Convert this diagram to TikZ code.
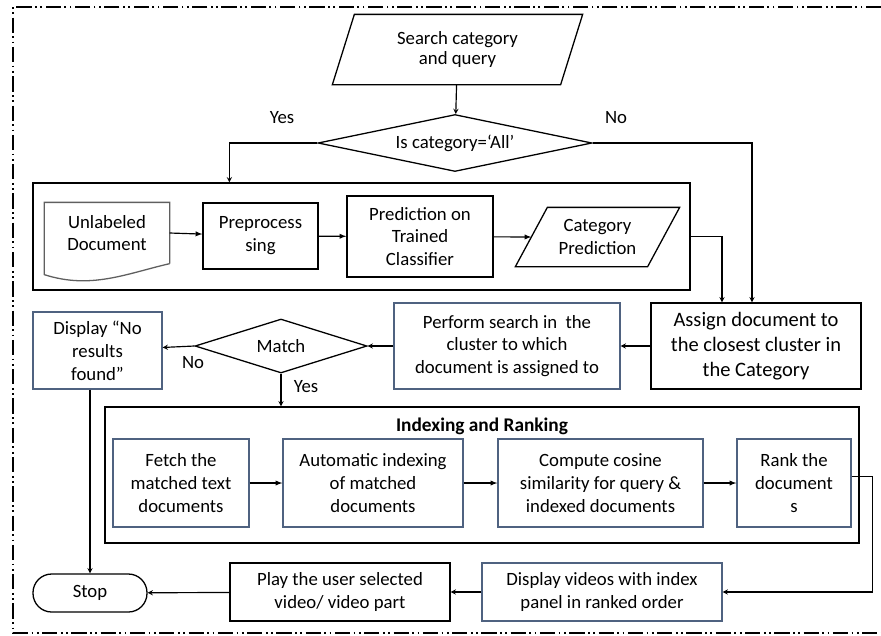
\documentclass[tikz,border=0pt]{standalone}
\usepackage{fontspec}
\setmainfont{Carlito}
\usetikzlibrary{arrows, shapes.geometric, positioning}
\tikzset{>=stealth}
\definecolor{boxblue}{RGB}{79,98,128}
\definecolor{docgray}{RGB}{95,95,95}
\tikzset{
  blk/.style={draw, line width=1.1pt, align=center, inner sep=2pt, font=\fontsize{16}{19.5}\selectfont},
  blu/.style={blk, draw=boxblue},
  frm/.style={draw, line width=1.1pt},
  txt/.style={blk, draw=none},
  dec/.style={blk, diamond, inner sep=0pt, aspect=#1},
  flowarr/.style={-latex, line width=1pt},
  conn/.style={->, line width=1pt},
  lbl/.style={font=\fontsize{16}{18}\selectfont},
  outer/.style={line width=1.2pt, dash pattern=on 13pt off 3pt on 1.5pt off 3pt on 1.5pt off 3pt},
}

\begin{document}
\begin{tikzpicture}[x=0.03cm, y=-0.03cm]
\useasboundingbox (0,0) rectangle (881,635);
\draw[outer] (881,7) -- (13,7) -- (13,633) -- (881,633);

\node[txt, minimum width=6.81cm, minimum height=2.07cm, font=\fontsize{16}{16.5}\selectfont] (search) at (457.5,49.5) {Search category\\and query};
\draw[line width=1.1pt] ([xshift=-0.33cm]search.south west) -- ([xshift=0.33cm]search.north west) -- ([xshift=0.33cm]search.north east) -- ([xshift=-0.33cm]search.south east) -- cycle;
\node[dec=4.8, minimum width=8.22cm, minimum height=1.71cm] (isall) at (455,143) {Is category=‘All’};
\node[lbl] (yes1) at (282,118) {Yes};
\node[lbl] (no1) at (616,118) {No};

% prediction part
\node[frm, minimum width=19.71cm, minimum height=3.21cm] (predbox) at (361.5,236.5) {};
\node[txt, minimum width=3.72cm, minimum height=1.8cm] (unlab) at (107,233) {Unlabeled\\Document};
\draw[docgray, line width=1.1pt] (unlab.south east) -- (unlab.north east) -- (unlab.north west) -- ([yshift=-0.33cm]unlab.south west)
  .. controls +(1.4cm,-0.45cm) and +(-1.3cm,-0.3cm) .. (unlab.south east);
\node[blk, minimum width=3.45cm, minimum height=1.98cm] (prep) at (260.5,236) {Preprocess\\sing};
\node[blk, minimum width=4.38cm, minimum height=2.43cm] (predict) at (420,236.5) {Prediction on\\Trained\\Classifier};
\node[txt, minimum width=3.93cm, minimum height=1.74cm] (catpred) at (597.5,237) {Category\\Prediction};
\draw[line width=1.1pt] ([xshift=-0.48cm]catpred.south west) -- ([xshift=0.48cm]catpred.north west) -- ([xshift=0.48cm]catpred.north east) -- ([xshift=-0.48cm]catpred.south east) -- cycle;

\node[blk, minimum width=6.3cm, minimum height=2.58cm, font=\fontsize{17.5}{21.5}\selectfont] (assign) at (756,346) {Assign document to\\the closest cluster in\\the Category};
\node[blu, minimum width=6.78cm, minimum height=2.58cm] (perform) at (507,346) {Perform search in \ the\\cluster to which\\document is assigned to};
\node[dec=3.2, minimum width=5.16cm, minimum height=1.62cm] (match) at (281,346) {Match};
\node[blu, minimum width=3.87cm, minimum height=2.31cm] (noresult) at (97.5,350.5) {Display “No\\results\\found”};
\node[lbl] (no2) at (193,363) {No};
\node[lbl] (yes2) at (306,387) {Yes};

% indexing and ranking
\node[frm, minimum width=22.62cm, minimum height=4.08cm] (idxbox) at (482,475) {};
\node[font=\bfseries\fontsize{16.5}{18}\selectfont] (idxtitle) at (482,426) {Indexing and Ranking};
\node[blu, minimum width=4.08cm, minimum height=2.64cm] (fetch) at (181,483) {Fetch the\\matched text\\documents};
\node[blu, minimum width=5.4cm, minimum height=2.64cm] (autoidx) at (373,483) {Automatic indexing\\of matched\\documents};
\node[blu, minimum width=6.15cm, minimum height=2.64cm] (cosine) at (600.5,483) {Compute cosine\\similarity for query \&\\indexed documents};
\node[blu, minimum width=3.42cm, minimum height=2.64cm] (rank) at (794,483) {Rank the\\document\\s};

\node[blu, minimum width=7.2cm, minimum height=1.74cm] (dispvid) at (602,592) {Display videos with index\\panel in ranked order};
\node[blk, minimum width=6.6cm, minimum height=1.74cm] (play) at (340,592) {Play the user selected\\video/ video part};
\node[blk, rounded corners=0.56cm, minimum width=3.42cm, minimum height=1.14cm] (stop) at (90,593) {Stop};

\draw[conn] (search) -- (isall);
\draw[conn] (isall.west) -| ([xshift=5.91cm]predbox.north west);
\draw[conn] (isall.east) -| ([xshift=-0.12cm]assign.north);
\draw[conn] (predbox.east) -| ([xshift=-1.02cm]assign.north);

\draw[flowarr] (unlab.east) -- (prep);
\draw[flowarr] (prep) -- (predict);
\draw[flowarr] (predict) -- (catpred.west);

\draw[conn] (assign) -- (perform);
\draw[conn] (perform) -- (match.east);
\draw[conn] (match.west) -- (noresult);
\draw[conn] (match.south) -- (match.south |- idxbox.north);

\draw[flowarr] (fetch) -- (autoidx);
\draw[flowarr] (autoidx) -- (cosine);
\draw[flowarr] (cosine) -- (rank);

\draw[conn] ([yshift=0.2cm]rank.east) -- ++(0.63cm,0) |- (dispvid.east);
\draw[conn] (dispvid) -- (play);
\draw[conn] (play) -- (stop);
\draw[conn] (stop.north |- noresult.south) -- (stop.north);

\end{tikzpicture}
\end{document}
